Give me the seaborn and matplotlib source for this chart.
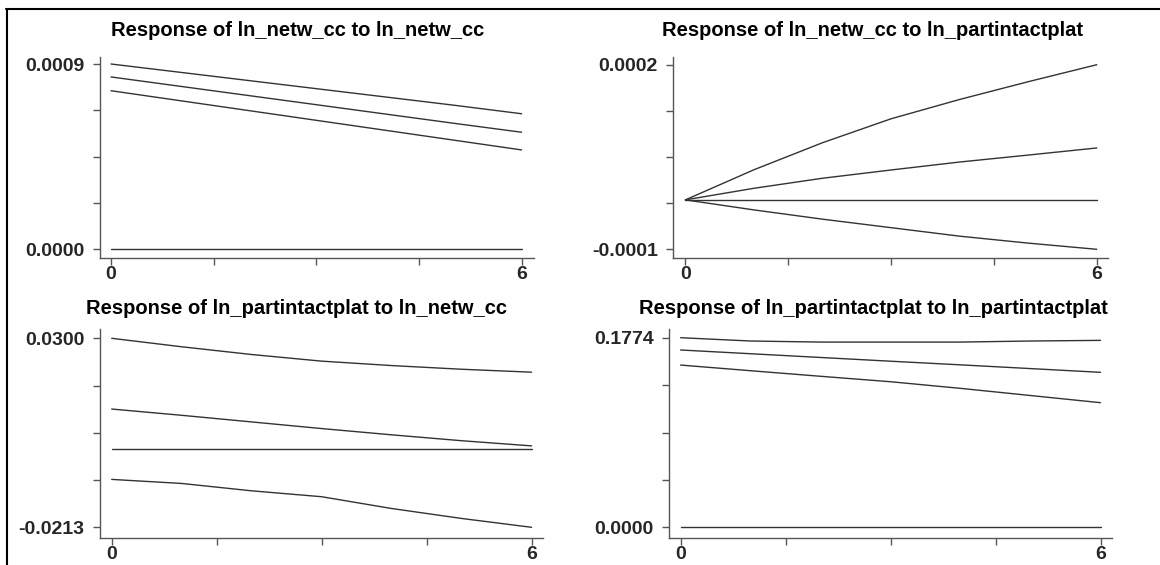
import matplotlib
matplotlib.use("Agg")
import matplotlib.pyplot as plt
from matplotlib.lines import Line2D
import seaborn as sns
import numpy as np
import pandas as pd

steps = [0, 1, 2, 3, 4, 5, 6]

titles = [
    "Response of ln_netw_cc to ln_netw_cc",
    "Response of ln_netw_cc to ln_partintactplat",
    "Response of ln_partintactplat to ln_netw_cc",
    "Response of ln_partintactplat to ln_partintactplat",
]

# panel 1: ln_netw_cc -> ln_netw_cc
p1_upper = [0.00090, 0.00086, 0.00082, 0.00078, 0.00074, 0.00070, 0.000658]
p1_irf   = [0.000837, 0.000792, 0.000747, 0.000702, 0.000657, 0.000612, 0.000568]
p1_lower = [0.00077, 0.000722, 0.000674, 0.000626, 0.000578, 0.00053, 0.000482]
p1_zero  = [0, 0, 0, 0, 0, 0, 0]

# panel 2: ln_partintactplat -> ln_netw_cc
p2_upper = [0.0, 0.000039, 0.000074, 0.000105, 0.000130, 0.000153, 0.000175]
p2_irf   = [0.0, 0.000015, 0.000028, 0.0000387, 0.000049, 0.000058, 0.0000672]
p2_lower = [0.0, -0.000013, -0.000025, -0.000036, -0.000047, -0.000056, -0.000064]
p2_zero  = [0, 0, 0, 0, 0, 0, 0]

# panel 3: ln_netw_cc -> ln_partintactplat
p3_upper = [0.0300, 0.0277, 0.0256, 0.0238, 0.0226, 0.0216, 0.0208]
p3_irf   = [0.0108, 0.0091, 0.0073, 0.0055, 0.0038, 0.0022, 0.0008]
p3_lower = [-0.0083, -0.0094, -0.0114, -0.0130, -0.0162, -0.0189, -0.0213]
p3_zero  = [0, 0, 0, 0, 0, 0, 0]

# panel 4: ln_partintactplat -> ln_partintactplat
p4_upper = [0.1774, 0.1743, 0.1733, 0.1733, 0.1733, 0.1743, 0.1749]
p4_irf   = [0.1659, 0.1624, 0.1589, 0.1554, 0.1520, 0.1485, 0.1450]
p4_lower = [0.1518, 0.1465, 0.1413, 0.1362, 0.1300, 0.1233, 0.1166]
p4_zero  = [0, 0, 0, 0, 0, 0, 0]

panels = [
    (p1_upper, p1_irf, p1_lower, p1_zero),
    (p2_upper, p2_irf, p2_lower, p2_zero),
    (p3_upper, p3_irf, p3_lower, p3_zero),
    (p4_upper, p4_irf, p4_lower, p4_zero),
]

sns.set_style("white")
plt.rcParams["font.family"] = ["Liberation Sans", "DejaVu Sans"]
plt.rcParams["font.weight"] = "bold"

W, H = 1160, 565
fig = plt.figure(figsize=(W / 100, H / 100), dpi=100)

# axes boxes in pixels: left, top, right, bottom
boxes = [
    (100, 57, 534, 258),
    (673, 57, 1108, 258),
    (100, 329, 543, 538),
    (669, 329, 1112, 538),
]
# pixel positions of x=0 / x=6 and of data max / min
xpix = [(111, 521.6), (685.4, 1096.8), (111.7, 531.6), (680.6, 1100.5)]
ypix = [(64, 249), (64.7, 249.3), (338.3, 527.3), (337.7, 527.3)]
title_pos = [(298, 36), (873, 36), (296, 314), (873, 314)]

line_col = "#333333"
axis_col = "#555555"

for i, (box, series) in enumerate(zip(boxes, panels)):
    l, t, r, b = box
    ax = fig.add_axes([l / W, 1 - b / H, (r - l) / W, (b - t) / H])
    df = pd.DataFrame({"step": steps * 4,
                       "value": [v for s in series for v in s],
                       "line": sum([[k] * len(steps) for k in range(4)], [])})
    for k in range(4):
        sub = df[df["line"] == k]
        sns.lineplot(data=sub, x="step", y="value", ax=ax, color=line_col,
                     lw=1.0, legend=False)
    vals = [v for s in series for v in s]
    vmax, vmin = max(vals), min(vals)
    x0p, x6p = xpix[i]
    ppu = (x6p - x0p) / 6
    ax.set_xlim(-(x0p - l) / ppu, 6 + (r - x6p) / ppu)
    ytp, ybp = ypix[i]
    ppv = (ybp - ytp) / (vmax - vmin)
    ax.set_ylim(vmin - (b - ybp) / ppv, vmax + (ytp - t) / ppv)

    xt = [0, 1.5, 3, 4.5, 6]
    ax.set_xticks(xt)
    ax.set_xticklabels(["0", "", "", "", "6"])
    yt = list(np.linspace(vmin, vmax, 5))
    ax.set_yticks(yt)
    ax.set_yticklabels([f"{vmin:.4f}", "", "", "", f"{vmax:.4f}"])
    ax.set_xlabel("")
    ax.set_ylabel("")
    for side in ["top", "right"]:
        ax.spines[side].set_visible(False)
    for side in ["left", "bottom"]:
        ax.spines[side].set_color(axis_col)
        ax.spines[side].set_linewidth(1.0)
    ax.tick_params(axis="y", direction="out", length=5, width=1.0,
                   color=axis_col, pad=6, labelsize=14, left=True)
    ax.tick_params(axis="x", direction="out", length=5, width=1.0,
                   color=axis_col, pad=1, labelsize=14, bottom=True)
    for lab in ax.get_xticklabels() + ax.get_yticklabels():
        lab.set_fontweight("bold")
    ax.set_facecolor("white")

    tx, ty = title_pos[i]
    fig.text(tx / W, 1 - ty / H, titles[i], ha="center", va="baseline",
             fontsize=14.5, fontweight="bold", color="black")

# figure frame (left and top edges visible)
fig.add_artist(Line2D([7 / W, 7 / W], [0, 1 - 9.3 / H], transform=fig.transFigure,
                      color="black", lw=1.5))
fig.add_artist(Line2D([6 / W, 1], [1 - 9.3 / H, 1 - 9.3 / H], transform=fig.transFigure,
                      color="black", lw=1.5))

fig.savefig("out.png", dpi=100, facecolor="white")
